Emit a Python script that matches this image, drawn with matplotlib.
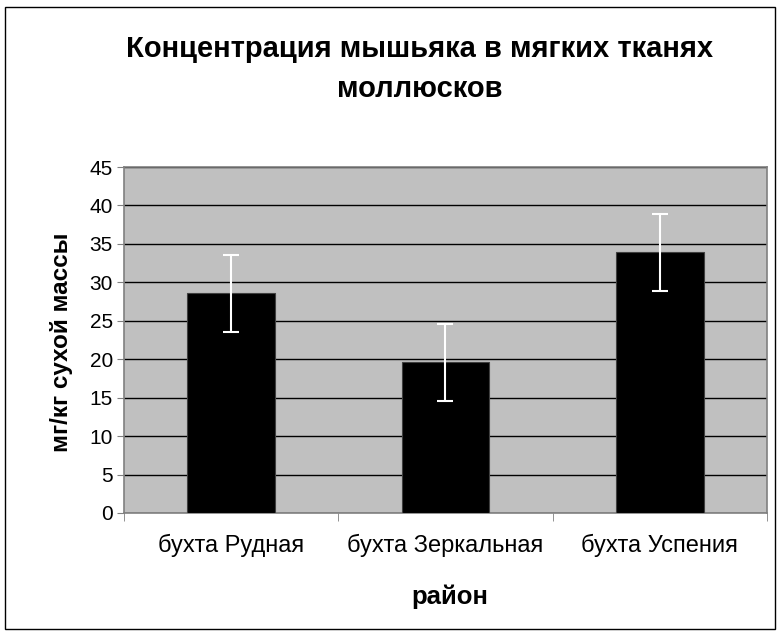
import numpy as np
import matplotlib.pyplot as plt
from matplotlib.patches import Rectangle

plt.rcParams['font.family'] = ['Liberation Sans', 'DejaVu Sans']

# mean arsenic content and error per bay
bays = ["бухта Рудная", "бухта Зеркальная", "бухта Успения"]
values = [28.6, 19.6, 33.9]
errors = [5.0, 5.0, 5.0]
yticks = [0, 5, 10, 15, 20, 25, 30, 35, 40, 45]

W, H = 781, 635
fig = plt.figure(figsize=(W / 100, H / 100), dpi=100)
ax = fig.add_axes([124 / W, 1 - 513 / H, (767 - 124) / W, (513 - 167) / H])
ax.set_facecolor("#c0c0c0")

x = np.arange(len(bays))
ax.bar(x, values, width=0.41, color="black", edgecolor="#404040", linewidth=0.8, zorder=3)
ax.errorbar(x, values, yerr=errors, fmt="none", ecolor="white", elinewidth=1.5,
            capsize=6, capthick=1.5, zorder=4)

ax.set_xlim(-0.5, 2.5)
ax.set_ylim(0, 45)
ax.set_yticks(yticks)
ax.yaxis.grid(True, color="black", linewidth=1)
ax.set_axisbelow(True)

ax.set_xticks(x)
ax.set_xticklabels(bays, fontsize=17)
ax.set_xticks([-0.5, 0.5, 1.5, 2.5], minor=True)
ax.tick_params(axis="x", which="major", length=0, pad=15)
ax.tick_params(axis="x", which="minor", length=6, color="#808080")
ax.tick_params(axis="y", labelsize=15, length=5, pad=3, color="#808080")

for side in ax.spines:
    ax.spines[side].set_color("#808080")
    ax.spines[side].set_linewidth(1.2)

fig.text(62 / W, 1 - 342 / H, "мг/кг сухой массы", rotation=90, ha="center", va="center",
         fontsize=17.5, fontweight="bold")
fig.text(450 / W, 1 - 597 / H, "район", ha="center", va="center",
         fontsize=18.5, fontweight="bold")
fig.text(420 / W, 1 - 69 / H, "Концентрация мышьяка в мягких тканях\nмоллюсков",
         ha="center", va="center", fontsize=21, fontweight="bold", linespacing=1.55)

# outer frame of the chart
fig.patches.append(Rectangle((5 / W, 6 / H), 770 / W, 622 / H, transform=fig.transFigure,
                             fill=False, edgecolor="black", linewidth=1))

fig.savefig("out.png", dpi=100)
